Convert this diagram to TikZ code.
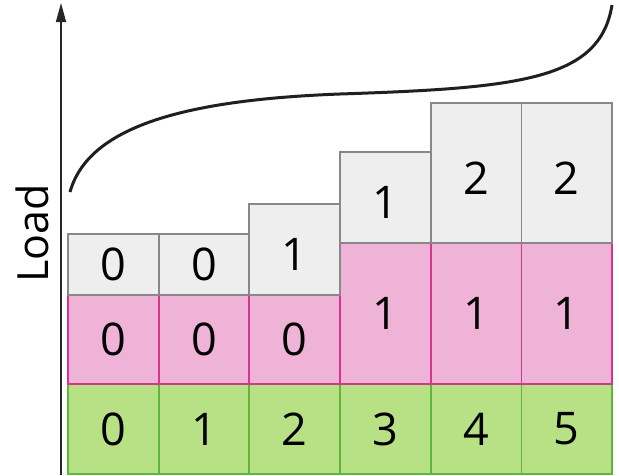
\documentclass[tikz,border=0pt]{standalone}
\usepackage{fontspec}
\setmainfont{Open Sans}
\usetikzlibrary{arrows.meta}
\definecolor{grayfill}{HTML}{EEEEEE}
\definecolor{graystroke}{HTML}{888888}
\definecolor{pinkfill}{HTML}{F0B3D8}
\definecolor{pinkstroke}{HTML}{D6358E}
\definecolor{greenfill}{HTML}{B8E186}
\definecolor{greenstroke}{HTML}{5DB83A}
\begin{document}
\begin{tikzpicture}[x=1pt,y=-1pt,
  cell/.style={draw, line width=1.7pt, inner sep=0pt, outer sep=0pt, anchor=north west,
    minimum width=90.67pt, font=\fontsize{45}{45}\selectfont},
  graycell/.style={cell, fill=grayfill, draw=graystroke},
  pinkcell/.style={cell, fill=pinkfill, draw=pinkstroke},
  greencell/.style={cell, fill=greenfill, draw=greenstroke},
  lowtext/.style={text height=42pt, text depth=0pt},
  axis/.style={draw=black!85, line width=1.5pt, -{Triangle[length=19pt,width=10pt]}},
  trend/.style={draw=black!88, line width=3pt}]
\useasboundingbox (0,0) rectangle (619,475);

% green base row: one cell per column
\foreach \i in {0,...,5}{
  \node[greencell, minimum height=90pt] (g\i) at ({68+90.67*\i},384) {\i};
}

% pink middle row
\node[pinkcell, minimum height=89pt]  (p0) at ({68+90.67*0},295) {0};
\node[pinkcell, minimum height=89pt]  (p1) at ({68+90.67*1},295) {0};
\node[pinkcell, minimum height=89pt]  (p2) at ({68+90.67*2},295) {0};
\node[pinkcell, minimum height=141pt] (p3) at ({68+90.67*3},243) {1};
\node[pinkcell, minimum height=141pt] (p4) at ({68+90.67*4},243) {1};
\node[pinkcell, minimum height=141pt] (p5) at ({68+90.67*5},243) {1};

% gray top row
\node[graycell, minimum height=61pt]  (t0) at ({68+90.67*0},234) {0};
\node[graycell, minimum height=61pt]  (t1) at ({68+90.67*1},234) {0};
\node[graycell, minimum height=91pt, lowtext]  (t2) at ({68+90.67*2},204) {1};
\node[graycell, minimum height=91pt, lowtext]  (t3) at ({68+90.67*3},152) {1};
\node[graycell, minimum height=140pt, lowtext] (t4) at ({68+90.67*4},103) {2};
\node[graycell, minimum height=140pt, lowtext] (t5) at ({68+90.67*5},103) {2};

% vertical load axis
\coordinate (axbot) at (61,475);
\coordinate (axtop) at (61,3);
\draw[axis] (axbot) -- (axtop);
\node[rotate=90, anchor=base, font=\fontsize{43}{43}\selectfont] (lbl) at (48,233.5) {Load};

% load curve
\coordinate (c0) at (70,192);
\coordinate (c1) at (340,94);
\coordinate (c2) at (612,5);
\draw[trend] (c0) .. controls (88,128) and (180,100) .. (c1)
                  .. controls (520,88) and (600,80) .. (c2);
\end{tikzpicture}
\end{document}
